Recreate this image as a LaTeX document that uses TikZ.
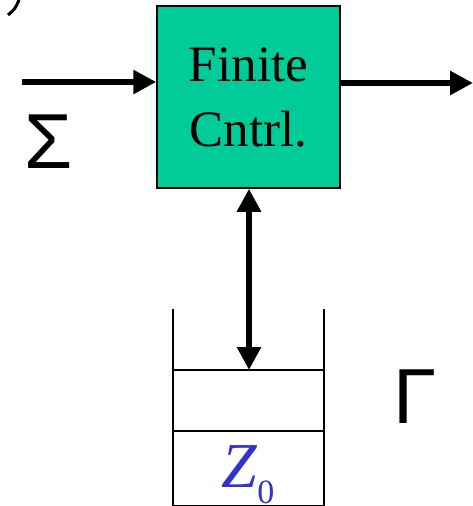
\documentclass[tikz,border=0pt]{standalone}
\usepackage{fontspec}
\setmainfont{Liberation Serif}
\setsansfont{Liberation Sans}
\usetikzlibrary{arrows.meta,positioning}
\definecolor{ctrlgreen}{RGB}{0,204,153}
\definecolor{zblue}{RGB}{51,51,204}

\begin{document}
\begin{tikzpicture}[x=1pt,y=-1pt,
  flow/.style={line width=6pt, -{Triangle[length=23pt,width=23pt]}},
  wall/.style={line width=1.5pt},
  cell/.style={draw, line width=1.5pt, minimum width=151pt, inner sep=0pt, outer sep=0pt},
  greek/.style={font=\sffamily\fontsize{78}{78}\selectfont, inner sep=0pt}]
\useasboundingbox (0,0) rectangle (473,506);
\draw[line width=3pt] (8,15) .. controls (15,9) .. (19,0);
\node[draw, fill=ctrlgreen, line width=1.5pt, minimum width=183pt, minimum height=182pt,
  align=center, font=\fontsize{51}{65}\selectfont] (ctrl) at (248.5,97) {Finite\\Cntrl.};
\coordinate (in) at (22,82);
\coordinate (out) at (473,83);
\draw[flow] (in) -- (in -| ctrl.west);
\draw[flow] (ctrl.east |- out) -- (out);
\node[greek] (sigma) at (49,142) {Σ};
% stack
\node[cell, minimum height=61pt] (top) at (248.5,400.5) {};
\node[cell, minimum height=75pt, below=0pt of top] (bottom) {};
\draw[wall] (top.north west) -- ++(0,-61);
\draw[wall] (top.north east) -- ++(0,-61);
\node[text=zblue, inner sep=0pt, anchor=base west] (z) at (221,487)
  {\fontsize{64}{64}\selectfont\textit{Z}\raisebox{-16pt}{\fontsize{34}{34}\selectfont 0}};
\draw[flow, {Triangle[length=23pt,width=23pt]}-{Triangle[length=23pt,width=23pt]}]
  (ctrl.south -| 249,0) -- (top.north -| 249,0);
\node[greek] (gamma) at (415,397) {Γ};
\end{tikzpicture}
\end{document}
